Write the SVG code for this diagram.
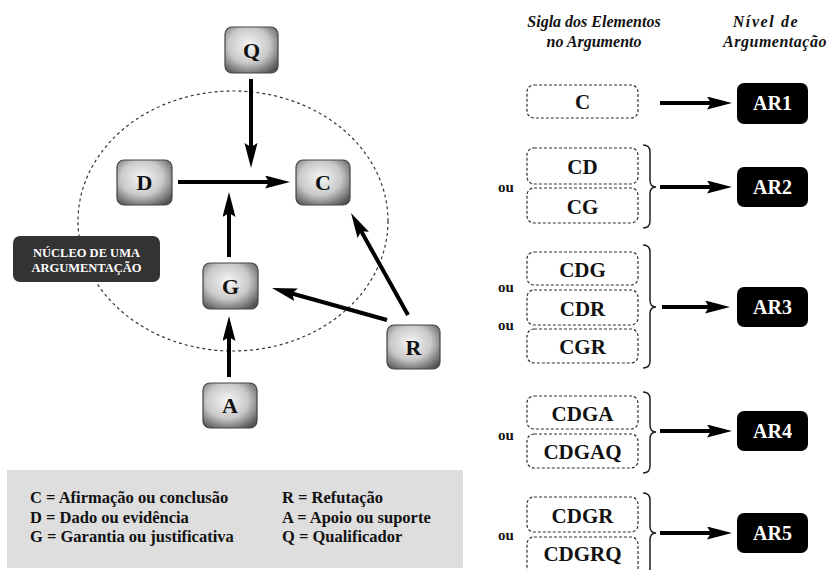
<svg xmlns="http://www.w3.org/2000/svg" width="828" height="570" viewBox="0 0 828 570">
<defs>
<radialGradient id="ng" cx="45%" cy="40%" r="70%">
<stop offset="0" stop-color="#f6f6f6"/>
<stop offset="0.55" stop-color="#c9c9c9"/>
<stop offset="1" stop-color="#555"/>
</radialGradient>
<marker id="ah" markerUnits="userSpaceOnUse" markerWidth="26" markerHeight="14" refX="7" refY="6.5" orient="auto">
<path d="M0,0 L25,6.5 L0,13 L4,6.5 z" fill="#000"/>
</marker>
<style>
text{font-family:"Liberation Serif","Times New Roman",serif;font-weight:bold}
.node{fill:url(#ng);stroke:#444;stroke-width:1.2}
.nt{font-size:22px;text-anchor:middle;fill:#111}
.dash{fill:#fff;stroke:#333;stroke-width:1.2;stroke-dasharray:3,2}
.bt{font-size:21px;text-anchor:middle;fill:#111}
.ar{fill:#000}
.at{font-size:20px;text-anchor:middle;fill:#fff}
.ou{font-size:15px;fill:#111}
.hd{font-style:italic;font-size:16px;text-anchor:middle;fill:#111}
.lg{font-size:16.5px;fill:#111}
.nu{font-size:12.5px;fill:#fff;text-anchor:middle}
.brace{fill:none;stroke:#222;stroke-width:1.5}
.con line{stroke:#000;stroke-width:4;marker-end:url(#ah)}
</style>
</defs>
<rect width="828" height="570" fill="#fff"/>
<ellipse cx="233" cy="221" rx="155" ry="130" fill="none" stroke="#333" stroke-width="1.2" stroke-dasharray="3,3"/>
<g id="nucleo">
<rect x="13" y="236" width="147" height="46" rx="7" fill="#333"/>
<text class="nu" x="86.5" y="257">NÚCLEO DE UMA</text>
<text class="nu" x="86.5" y="272">ARGUMENTAÇÃO</text>
</g>
<g id="node-Q"><rect class="node" x="225" y="27" width="53" height="46" rx="7"/><text class="nt" x="251.5" y="57.5">Q</text></g>
<g id="node-D"><rect class="node" x="117" y="160" width="55" height="45" rx="7"/><text class="nt" x="144.5" y="190">D</text></g>
<g id="node-C"><rect class="node" x="296" y="160" width="54" height="45" rx="7"/><text class="nt" x="323" y="190">C</text></g>
<g id="node-G"><rect class="node" x="203" y="263" width="55" height="46" rx="7"/><text class="nt" x="230.5" y="293.5">G</text></g>
<g id="node-R"><rect class="node" x="387" y="325" width="53" height="44" rx="7"/><text class="nt" x="413.5" y="354.5">R</text></g>
<g id="node-A"><rect class="node" x="203" y="383" width="54" height="45" rx="7"/><text class="nt" x="230" y="413">A</text></g>
<g id="connectors" class="con">
<line x1="251" y1="79" x2="251" y2="150"/>
<line x1="178" y1="182" x2="272" y2="182"/>
<line x1="229" y1="257" x2="229" y2="210"/>
<line x1="408" y1="315" x2="359.8" y2="228.7"/>
<line x1="387" y1="320" x2="289.3" y2="292.8"/>
<line x1="229" y1="377" x2="229" y2="334"/>
<line x1="660" y1="103" x2="714" y2="103"/>
<line x1="660" y1="187" x2="714" y2="187"/>
<line x1="662" y1="307" x2="712" y2="307"/>
<line x1="660" y1="431" x2="714" y2="431"/>
<line x1="660" y1="533" x2="714" y2="533"/>
</g>
<g id="legend">
<rect x="7" y="470" width="456" height="98" fill="#dedede"/>
<text class="lg" x="30" y="503">C = Afirmação ou conclusão</text>
<text class="lg" x="30" y="523">D = Dado ou evidência</text>
<text class="lg" x="30" y="542">G = Garantia ou justificativa</text>
<text class="lg" x="282" y="503">R = Refutação</text>
<text class="lg" x="282" y="523">A = Apoio ou suporte</text>
<text class="lg" x="282" y="542">Q = Qualificador</text>
</g>
<g id="headers">
<text class="hd" x="594" y="27">Sigla dos Elementos</text>
<text class="hd" x="594" y="47">no Argumento</text>
<text class="hd" x="766" y="27" letter-spacing="1.6">Nível de</text>
<text class="hd" x="775" y="47" letter-spacing="0.5">Argumentação</text>
</g>
<g id="row-AR1">
<rect class="dash" x="527" y="85" width="111" height="33" rx="7"/><text class="bt" x="582.5" y="109">C</text>
<rect class="ar" x="737" y="83" width="71" height="41" rx="7"/><text class="at" x="772.5" y="110">AR1</text>
</g>
<g id="row-AR2">
<rect class="dash" x="527" y="148" width="111" height="36" rx="7"/><text class="bt" x="582.5" y="174">CD</text>
<rect class="dash" x="527" y="188" width="111" height="35" rx="7"/><text class="bt" x="582.5" y="213.5">CG</text>
<text class="ou" x="498" y="192">ou</text>
<path class="brace" d="M643,145 Q650,145 650,152 L650,180 Q650,187 656,187 Q650,187 650,194 L650,221 Q650,228 643,228"/>
<rect class="ar" x="737" y="167" width="71" height="40" rx="7"/><text class="at" x="772.5" y="194">AR2</text>
</g>
<g id="row-AR3">
<rect class="dash" x="527" y="252" width="111" height="33" rx="7"/><text class="bt" x="582.5" y="276.5">CDG</text>
<rect class="dash" x="527" y="290" width="111" height="35" rx="7"/><text class="bt" x="582.5" y="315.5">CDR</text>
<rect class="dash" x="527" y="329" width="111" height="34" rx="7"/><text class="bt" x="582.5" y="354">CGR</text>
<text class="ou" x="498" y="292">ou</text>
<text class="ou" x="498" y="330">ou</text>
<path class="brace" d="M643,245 Q650,245 650,252 L650,300 Q650,307 656,307 Q650,307 650,314 L650,361 Q650,368 643,368"/>
<rect class="ar" x="737" y="287" width="71" height="40" rx="7"/><text class="at" x="772.5" y="314">AR3</text>
</g>
<g id="row-AR4">
<rect class="dash" x="527" y="396" width="111" height="33" rx="7"/><text class="bt" x="582.5" y="420.5">CDGA</text>
<rect class="dash" x="527" y="434" width="111" height="34" rx="7"/><text class="bt" x="582.5" y="459">CDGAQ</text>
<text class="ou" x="498" y="440">ou</text>
<path class="brace" d="M643,392 Q650,392 650,399 L650,425 Q650,432 656,432 Q650,432 650,439 L650,466 Q650,473 643,473"/>
<rect class="ar" x="737" y="411" width="71" height="40" rx="7"/><text class="at" x="772.5" y="438">AR4</text>
</g>
<g id="row-AR5">
<rect class="dash" x="527" y="497" width="111" height="35" rx="7"/><text class="bt" x="582.5" y="522.5">CDGR</text>
<rect class="dash" x="527" y="537" width="111" height="40" rx="7"/><text class="bt" x="582.5" y="561">CDGRQ</text>
<text class="ou" x="498" y="540">ou</text>
<path class="brace" d="M643,493 Q650,493 650,500 L650,526 Q650,533 656,533 Q650,533 650,540 L650,572"/>
<rect class="ar" x="737" y="513" width="71" height="40" rx="7"/><text class="at" x="772.5" y="540">AR5</text>
</g>
</svg>
